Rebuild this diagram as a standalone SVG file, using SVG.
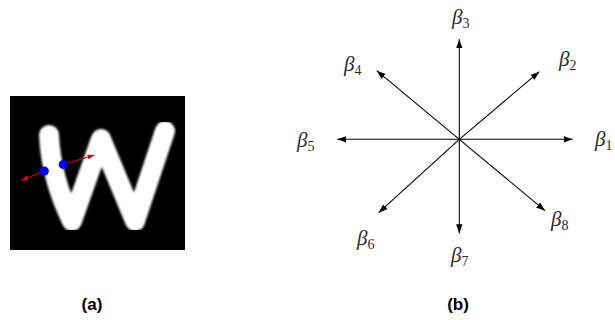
<svg xmlns="http://www.w3.org/2000/svg" width="615" height="320" viewBox="0 0 615 320">
<style>
.ax{stroke:#000;stroke-width:1.1;fill:none;marker-end:url(#ah)}
.rd{stroke:#e00000;stroke-width:1.1;fill:none;marker-end:url(#rh)}
.lb{font-family:"Liberation Serif","DejaVu Serif",serif;font-style:italic;font-size:21px;fill:#2a2a2a}
.sb{font-style:normal;font-size:14px}
.cap{font-family:"Liberation Sans",Arial,sans-serif;font-weight:bold;font-size:17px;fill:#000;text-anchor:middle}
</style>
<defs>
<marker id="ah" markerUnits="userSpaceOnUse" markerWidth="10" markerHeight="8" refX="9" refY="4" orient="auto">
<path d="M0,0.8 L9,4 L0,7.2 Z" fill="#000"/>
</marker>
<marker id="rh" markerUnits="userSpaceOnUse" markerWidth="8" markerHeight="6" refX="7" refY="3" orient="auto">
<path d="M0,0.5 L7,3 L0,5.5 Z" fill="#e00000"/>
</marker>
<filter id="bl" x="-10%" y="-10%" width="120%" height="120%">
<feGaussianBlur stdDeviation="1.3"/>
</filter>
</defs>
<g id="panel-a">
<rect x="10" y="96" width="175" height="154" fill="#000"/>
<path d="M49 135 Q51 178 72 221 L101 139 L135 221 L165 131" fill="none" stroke="#fff" stroke-width="20" stroke-linecap="round" stroke-linejoin="round" filter="url(#bl)"/>
<line class="rd" x1="44.3" y1="171" x2="21" y2="180.5"/>
<line class="rd" x1="63.3" y1="164.5" x2="94.5" y2="155"/>
<circle cx="44.3" cy="171" r="4.6" fill="#0000ff"/>
<circle cx="63.3" cy="164.5" r="4.6" fill="#0000ff"/>
</g>
<g id="connectors">
<line class="ax" x1="459.3" y1="139.3" x2="572.7" y2="139.3"/>
<line class="ax" x1="459.3" y1="139.3" x2="539.3" y2="71.7"/>
<line class="ax" x1="459.3" y1="139.3" x2="459.3" y2="39.3"/>
<line class="ax" x1="459.3" y1="139.3" x2="376.7" y2="70.7"/>
<line class="ax" x1="459.3" y1="139.3" x2="337.3" y2="139.3"/>
<line class="ax" x1="459.3" y1="139.3" x2="378.7" y2="212.7"/>
<line class="ax" x1="459.3" y1="139.3" x2="459.3" y2="233.3"/>
<line class="ax" x1="459.3" y1="139.3" x2="545" y2="210.7"/>
</g>
<g id="beta1"><text class="lb" x="595" y="146">β<tspan class="sb" dy="4">1</tspan></text></g>
<g id="beta2"><text class="lb" x="559" y="66">β<tspan class="sb" dy="4">2</tspan></text></g>
<g id="beta3"><text class="lb" x="452" y="24">β<tspan class="sb" dy="4">3</tspan></text></g>
<g id="beta4"><text class="lb" x="344" y="71">β<tspan class="sb" dy="4">4</tspan></text></g>
<g id="beta5"><text class="lb" x="297" y="147">β<tspan class="sb" dy="4">5</tspan></text></g>
<g id="beta6"><text class="lb" x="357" y="245">β<tspan class="sb" dy="4">6</tspan></text></g>
<g id="beta7"><text class="lb" x="451" y="262">β<tspan class="sb" dy="4">7</tspan></text></g>
<g id="beta8"><text class="lb" x="551" y="226">β<tspan class="sb" dy="4">8</tspan></text></g>
<g id="caption-a"><text class="cap" x="92" y="310">(a)</text></g>
<g id="caption-b"><text class="cap" x="458" y="310">(b)</text></g>
</svg>
